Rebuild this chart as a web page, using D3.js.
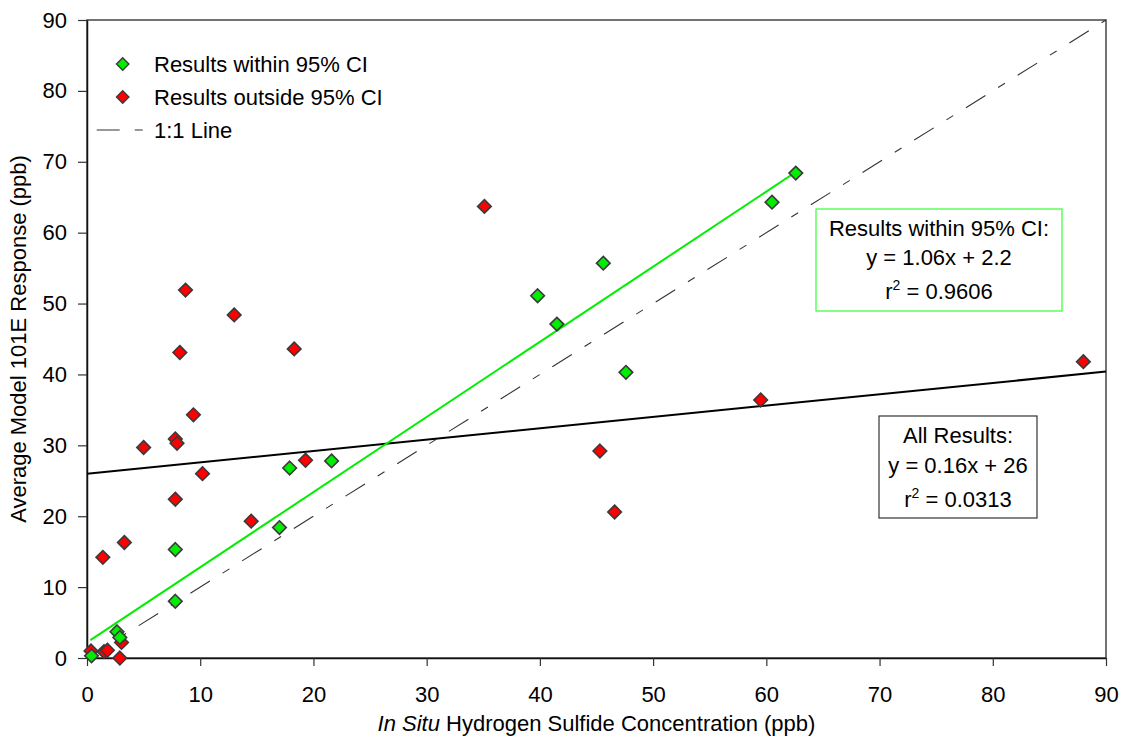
<!DOCTYPE html>
<html>
<head>
<meta charset="utf-8">
<script src="https://cdn.jsdelivr.net/npm/d3@7"></script>
<style>
  body { margin: 0; background: #fff; }
  svg { display: block; font-family: "Liberation Sans", Arial, sans-serif; }
</style>
</head>
<body>
<div id="chart"></div>
<script>
// scatter of 101E response vs in situ H2S

// results within 95% CI (green)
const withinX = [62.6, 60.5, 45.6, 39.8, 41.5, 47.6, 17.9, 21.6, 17.0, 7.8, 7.8, 2.65, 2.9, 0.4];
const withinY = [68.4, 64.3, 55.7, 51.1, 47.1, 40.3, 26.8, 27.8, 18.4, 15.3, 8.0, 3.7, 2.9, 0.3];

// results outside 95% CI (red)
const outsideX = [35.1, 59.5, 45.3, 46.6, 88.0, 8.7, 13.0, 8.2, 18.3, 9.4, 7.8, 7.95, 5.0, 10.2, 19.3, 7.8, 14.5, 3.3, 1.4, 3.05, 0.35, 1.5, 1.8, 2.9];
const outsideY = [63.7, 36.4, 29.2, 20.6, 41.8, 51.9, 48.4, 43.1, 43.6, 34.3, 30.9, 30.3, 29.7, 26.0, 27.9, 22.4, 19.3, 16.3, 14.2, 2.2, 1.0, 0.9, 1.1, 0.0];

// trend lines: [slope, intercept, xStart, xEnd]
const fitWithin = [1.06, 2.2, 0.3, 62.6];
const fitAll = [0.16, 26, 0, 90];
const oneToOne = [1, 0, 0, 90];

const xTicks = [0, 10, 20, 30, 40, 50, 60, 70, 80, 90];
const yTicks = [0, 10, 20, 30, 40, 50, 60, 70, 80, 90];

const legendLabels = ["Results within 95% CI", "Results outside 95% CI", "1:1 Line"];
const boxWithin = ["Results within 95% CI:", "y = 1.06x + 2.2", "0.9606"];
const boxAll = ["All Results:", "y = 0.16x + 26", "0.0313"];

const width = 1121, height = 746;
const margin = { top: 20, right: 15, bottom: 88, left: 87 };
const green = "#00ee00", red = "#ff0000";
const fontSize = 22;

const svg = d3.select("#chart").append("svg")
  .attr("width", width)
  .attr("height", height);

const x = d3.scaleLinear().domain([0, 90]).range([margin.left, width - margin.right]);
const y = d3.scaleLinear().domain([0, 90]).range([height - margin.bottom, margin.top]);

// plot frame (top / right)
svg.append("rect")
  .attr("x", x(0)).attr("y", y(90))
  .attr("width", x(90) - x(0)).attr("height", y(0) - y(90))
  .attr("fill", "none")
  .attr("stroke", "#444")
  .attr("stroke-width", 1.5);

// axes
const xAxis = svg.append("g")
  .attr("transform", `translate(0,${y(0)})`)
  .call(d3.axisBottom(x).tickValues(xTicks).tickSize(8).tickPadding(20).tickSizeOuter(0));
const yAxis = svg.append("g")
  .attr("transform", `translate(${x(0)},0)`)
  .call(d3.axisLeft(y).tickValues(yTicks).tickSize(9).tickPadding(11).tickSizeOuter(0));

[xAxis, yAxis].forEach(ax => {
  ax.select(".domain").attr("stroke", "#111").attr("stroke-width", 1.5);
  ax.selectAll(".tick line").attr("stroke", "#333").attr("stroke-width", 1.2);
  ax.selectAll(".tick text")
    .attr("fill", "#000")
    .style("font-size", fontSize + "px")
    .style("font-family", "'Liberation Sans', Arial, sans-serif");
});

// line helper
function fitLine(fit, color, widthPx, dash) {
  const [m, b, x0, x1] = fit;
  const line = svg.append("line")
    .attr("x1", x(x0)).attr("y1", y(m * x0 + b))
    .attr("x2", x(x1)).attr("y2", y(m * x1 + b))
    .attr("stroke", color)
    .attr("stroke-width", widthPx);
  if (dash) line.attr("stroke-dasharray", dash);
  return line;
}

fitLine(oneToOne, "#333", 1.1, "23,15,8,15");
fitLine(fitAll, "#000", 2, null);
fitLine(fitWithin, green, 2, null);

// diamond marker
function diamond(r) {
  return `M0,${-r}L${r},0L0,${r}L${-r},0Z`;
}

const outsidePts = outsideX.map((v, i) => [v, outsideY[i]]);
const withinPts = withinX.map((v, i) => [v, withinY[i]]);

svg.append("g").selectAll("path")
  .data(outsidePts)
  .join("path")
  .attr("d", diamond(6.8))
  .attr("transform", d => `translate(${x(d[0])},${y(d[1])})`)
  .attr("fill", red)
  .attr("stroke", "#3a3a3a")
  .attr("stroke-width", 1.6);

svg.append("g").selectAll("path")
  .data(withinPts)
  .join("path")
  .attr("d", diamond(6.8))
  .attr("transform", d => `translate(${x(d[0])},${y(d[1])})`)
  .attr("fill", green)
  .attr("stroke", "#3a3a3a")
  .attr("stroke-width", 1.6);

// legend
const legend = svg.append("g");
const legRows = [64, 97, 130];
legend.append("path").attr("d", diamond(6.2))
  .attr("transform", `translate(122.7,${legRows[0]})`)
  .attr("fill", green).attr("stroke", "#3a3a3a").attr("stroke-width", 1.4);
legend.append("path").attr("d", diamond(6.2))
  .attr("transform", `translate(122.7,${legRows[1]})`)
  .attr("fill", red).attr("stroke", "#3a3a3a").attr("stroke-width", 1.4);
legend.append("line")
  .attr("x1", 96.7).attr("x2", 143.3)
  .attr("y1", legRows[2]).attr("y2", legRows[2])
  .attr("stroke", "#333").attr("stroke-width", 1.1)
  .attr("stroke-dasharray", "23,15,8");
legend.selectAll("text.leg")
  .data(legendLabels)
  .join("text")
  .attr("class", "leg")
  .attr("x", 154)
  .attr("y", (d, i) => legRows[i] + 8)
  .style("font-size", fontSize + "px")
  .text(d => d);

// equation boxes
function eqBox(lines, x0, y0, w, h, stroke, baselines) {
  const g = svg.append("g");
  g.append("rect")
    .attr("x", x0).attr("y", y0).attr("width", w).attr("height", h)
    .attr("fill", "#fff").attr("stroke", stroke).attr("stroke-width", 1.2);
  const cx = x0 + w / 2;
  g.append("text").attr("x", cx).attr("y", baselines[0])
    .attr("text-anchor", "middle").style("font-size", fontSize + "px").text(lines[0]);
  g.append("text").attr("x", cx).attr("y", baselines[1])
    .attr("text-anchor", "middle").style("font-size", fontSize + "px").text(lines[1]);
  const t = g.append("text").attr("x", cx).attr("y", baselines[2])
    .attr("text-anchor", "middle").style("font-size", fontSize + "px");
  t.append("tspan").text("r");
  t.append("tspan").attr("dy", -9).style("font-size", "14px").text("2");
  t.append("tspan").attr("dy", 9).text(" = " + lines[2]);
}

eqBox(boxWithin, 816, 209, 246, 102, "#33ff33", [236, 265, 299]);
eqBox(boxAll, 879, 416, 158, 102, "#333", [443, 473, 507]);

// axis titles
const xTitle = svg.append("text")
  .attr("x", (x(0) + x(90)) / 2)
  .attr("y", 731)
  .attr("text-anchor", "middle")
  .style("font-size", fontSize + "px");
xTitle.append("tspan").style("font-style", "italic").text("In Situ");
xTitle.append("tspan").text(" Hydrogen Sulfide Concentration (ppb)");

svg.append("text")
  .attr("transform", `translate(26,${(y(0) + y(90)) / 2}) rotate(-90)`)
  .attr("text-anchor", "middle")
  .style("font-size", fontSize + "px")
  .text("Average Model 101E Response (ppb)");
</script>
</body>
</html>
